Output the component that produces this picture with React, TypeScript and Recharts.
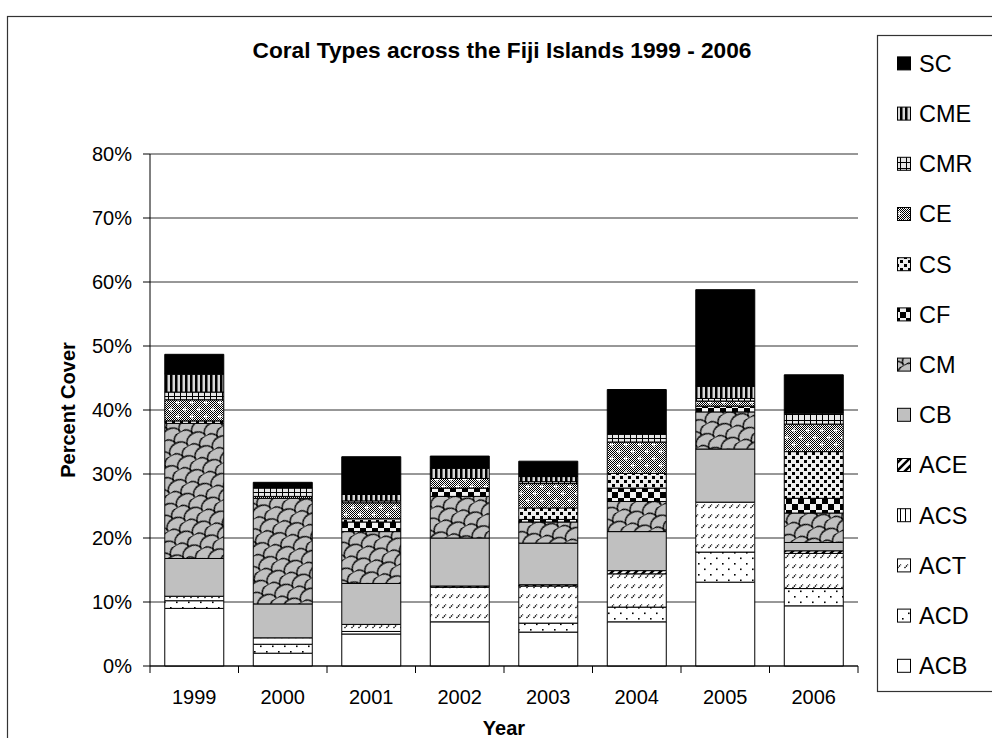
import React from 'react';
import { BarChart, Bar, XAxis, YAxis, CartesianGrid } from 'recharts';

const FONT = "'Liberation Sans', Arial, Helvetica, sans-serif";

const years = ['1999', '2000', '2001', '2002', '2003', '2004', '2005', '2006'];
const ACB = [9.0, 2.0, 5.0, 6.9, 5.3, 6.9, 13.1, 9.4];
const ACD = [1.2, 1.4, 0.4, 0, 1.4, 2.3, 4.7, 2.7];
const ACT = [0.7, 1.0, 1.1, 5.4, 5.8, 5.2, 7.8, 5.5];
const ACS = [0, 0, 0, 0, 0, 0, 0, 0];
const ACE = [0, 0, 0, 0.2, 0.2, 0.5, 0, 0.4];
const CB = [5.9, 5.3, 6.4, 7.5, 6.5, 6.1, 8.3, 1.3];
const CM = [21.1, 16.5, 8.1, 6.5, 3.3, 4.7, 5.8, 4.6];
const CF = [0, 0, 1.5, 1.3, 0.4, 2.1, 0.9, 2.3];
const CS = [0.4, 0, 0.5, 0, 1.8, 2.3, 0, 7.3];
const CE = [3.3, 0.3, 2.5, 1.5, 3.8, 4.9, 0.8, 4.3];
const CMR = [1.2, 1.3, 0.3, 0, 0.3, 1.2, 0.4, 1.7];
const CME = [2.8, 0, 1.0, 1.6, 0.8, 0, 1.9, 0];
const SC = [3.1, 0.9, 5.9, 1.9, 2.4, 7.0, 15.1, 6.0];

const yTicks = [0, 10, 20, 30, 40, 50, 60, 70, 80];

const stackKeys = ['ACB', 'ACD', 'ACT', 'ACS', 'ACE', 'CB', 'CM', 'CF', 'CS', 'CE', 'CMR', 'CME', 'SC'];
const seriesValues: Record<string, number[]> = { ACB, ACD, ACT, ACS, ACE, CB, CM, CF, CS, CE, CMR, CME, SC };
const legendKeys = [...stackKeys].reverse();

const data = years.map((year, i) => {
  const row: Record<string, any> = { year };
  stackKeys.forEach((k) => { row[k] = seriesValues[k][i]; });
  return row;
});

const fills: Record<string, string> = {
  SC: '#000000',
  CME: 'url(#p-CME)',
  CMR: 'url(#p-CMR)',
  CE: 'url(#p-CE)',
  CS: 'url(#p-CS)',
  CF: 'url(#p-CF)',
  CM: 'url(#p-CM)',
  CB: '#C0C0C0',
  ACE: 'url(#p-ACE)',
  ACS: 'url(#p-ACS)',
  ACT: 'url(#p-ACT)',
  ACD: 'url(#p-ACD)',
  ACB: '#FFFFFF',
};

const W = 992;
const H = 738;
const MARGIN = { top: 154, right: 134, bottom: 0, left: 90 };
const YAXIS_W = 60;
const XAXIS_H = 72;
const PLOT_W = W - MARGIN.left - YAXIS_W - MARGIN.right;
const HALF_BAND = PLOT_W / years.length / 2;

const Patterns = () => (
  <svg width={0} height={0} style={{ position: 'absolute', left: 0, top: 0 }}>
    <defs>
      <pattern id="dith" width="2" height="2" patternUnits="userSpaceOnUse">
        <rect width="2" height="2" fill="#fff" />
        <rect width="1" height="1" fill="#000" />
        <rect x="1" y="1" width="1" height="1" fill="#000" />
      </pattern>
      <pattern id="p-CME" width="5" height="4" patternUnits="userSpaceOnUse">
        <rect width="5" height="4" fill="#d9d9d9" />
        <rect width="2.5" height="4" fill="#000" />
      </pattern>
      <pattern id="p-CMR" width="6" height="6" patternUnits="userSpaceOnUse">
        <rect width="6" height="6" fill="#e6e6e6" />
        <path d="M0 0.5H6M0.5 0V6" stroke="#000" strokeWidth="1" />
      </pattern>
      <pattern id="p-CE" width="14" height="14" patternUnits="userSpaceOnUse">
        <rect width="14" height="14" fill="url(#dith)" />
        <path d="M3 1v5M0.5 3.5h5M10 8v5M7.5 10.5h5" stroke="#fff" strokeWidth="1" />
      </pattern>
      <pattern id="p-CS" width="8" height="8" patternUnits="userSpaceOnUse">
        <rect width="8" height="8" fill="#eeeeee" />
        <rect x="0" y="0" width="3" height="3" fill="#000" />
        <rect x="4" y="4" width="3" height="3" fill="#000" />
      </pattern>
      <pattern id="p-CF" width="12" height="12" patternUnits="userSpaceOnUse">
        <rect width="12" height="12" fill="#f2f2f2" />
        <rect x="0" y="0" width="6" height="6" fill="#000" />
        <rect x="6" y="6" width="6" height="6" fill="#000" />
      </pattern>
      <pattern id="p-CM" width="20" height="16" patternUnits="userSpaceOnUse" patternTransform="rotate(-30)">
        <rect width="20" height="16" fill="#C0C0C0" />
        <path d="M0 16C0 5 20 5 20 16M-10 8C-10 -3 10 -3 10 8M10 8C10 -3 30 -3 30 8" stroke="#000" strokeWidth="1.3" fill="none" />
      </pattern>
      <pattern id="p-ACE" width="8" height="8" patternUnits="userSpaceOnUse">
        <rect width="8" height="8" fill="#fff" />
        <path d="M-2 10L10 -2M-2 2L2 -2M6 10L10 6" stroke="#000" strokeWidth="2.5" />
      </pattern>
      <pattern id="p-ACS" width="5" height="5" patternUnits="userSpaceOnUse">
        <rect width="5" height="5" fill="#fff" />
        <path d="M0.5 0V5" stroke="#000" strokeWidth="1" />
      </pattern>
      <pattern id="p-ACT" width="7" height="10" patternUnits="userSpaceOnUse">
        <rect width="7" height="10" fill="#fff" />
        <path d="M1.5 8L5 4.5" stroke="#000" strokeWidth="1.3" strokeDasharray="1.4 0.7" />
      </pattern>
      <pattern id="p-ACD" width="12" height="11" patternUnits="userSpaceOnUse">
        <rect width="12" height="11" fill="#fff" />
        <rect x="2" y="2" width="1.6" height="1.6" fill="#000" />
        <rect x="8" y="7.5" width="1.6" height="1.6" fill="#000" />
      </pattern>
    </defs>
  </svg>
);

const XTick = (props: any) => {
  const { x, y, payload, index } = props;
  const last = index === years.length - 1;
  return (
    <g>
      <line x1={x - HALF_BAND} x2={x - HALF_BAND} y1={y} y2={y + 7} stroke="#000" strokeWidth={1} />
      {last && <line x1={x + HALF_BAND} x2={x + HALF_BAND} y1={y} y2={y + 7} stroke="#000" strokeWidth={1} />}
      <text x={x} y={y + 38} textAnchor="middle" fontSize={20} fill="#000" fontFamily={FONT}>
        {payload.value}
      </text>
    </g>
  );
};

const LEG_TOP = 63.4;
const LEG_STEP = 50.2;

export default function App() {
  return (
    <div style={{ position: 'absolute', left: 0, top: 0, width: W, height: H, background: '#fff', fontFamily: FONT, overflow: 'hidden' }}>
      <Patterns />
      <BarChart width={W} height={H} data={data} margin={MARGIN} barCategoryGap="16.7%">
        <CartesianGrid horizontal vertical={false} stroke="#303030" strokeWidth={1} />
        <XAxis
          dataKey="year"
          height={XAXIS_H}
          tickSize={0}
          tickMargin={0}
          tickLine={false}
          axisLine={{ stroke: '#000', strokeWidth: 1 }}
          tick={<XTick />}
          interval={0}
        />
        <YAxis
          width={YAXIS_W}
          domain={[0, 80]}
          ticks={yTicks}
          interval={0}
          tickFormatter={(v: number) => `${v}%`}
          tickSize={7}
          tickMargin={11}
          tickLine={{ stroke: '#000' }}
          axisLine={{ stroke: '#000', strokeWidth: 1 }}
          tick={{ fontSize: 20, fill: '#000', fontFamily: FONT }}
        />
        <YAxis
          yAxisId="r"
          orientation="right"
          width={0}
          domain={[0, 80]}
          tick={false}
          tickLine={false}
          axisLine={{ stroke: '#808080', strokeWidth: 1 }}
        />
        {stackKeys.map((k) => (
          <Bar key={k} dataKey={k} stackId="a" fill={fills[k]} stroke="#000" strokeWidth={1} isAnimationActive={false} />
        ))}
      </BarChart>
      <svg width={W} height={H} style={{ position: 'absolute', left: 0, top: 0, pointerEvents: 'none' }}>
        <rect x={7.5} y={16.5} width={1100} height={900} fill="none" stroke="#333" strokeWidth={1.2} />
        <text x={502} y={58} textAnchor="middle" fontSize={22.7} fontWeight="bold" fill="#000" fontFamily={FONT}>
          Coral Types across the Fiji Islands 1999 - 2006
        </text>
        <text transform="translate(75,410) rotate(-90)" textAnchor="middle" fontSize={20} fontWeight="bold" fill="#000" fontFamily={FONT}>
          Percent Cover
        </text>
        <text x={504} y={735} textAnchor="middle" fontSize={20} fontWeight="bold" fill="#000" fontFamily={FONT}>
          Year
        </text>
        <rect x={877.5} y={35.5} width={200} height={656} fill="#fff" stroke="#333" strokeWidth={1.2} />
        {legendKeys.map((k, i) => {
          const cy = LEG_TOP + i * LEG_STEP;
          return (
            <g key={k}>
              <rect x={897.5} y={cy - 6.5} width={13} height={13} fill={fills[k]} stroke="#000" strokeWidth={1} />
              <text x={919} y={cy + 8.3} fontSize={23.5} fill="#000" fontFamily={FONT}>
                {k}
              </text>
            </g>
          );
        })}
      </svg>
    </div>
  );
}
